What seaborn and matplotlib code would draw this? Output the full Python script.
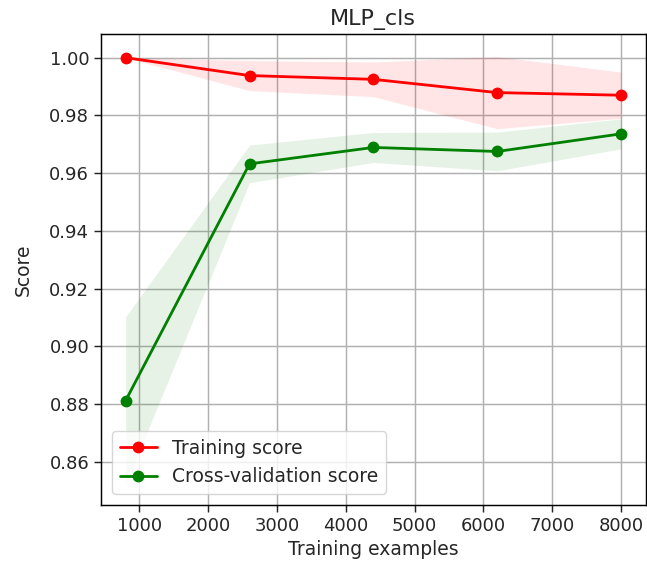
import numpy as np
import pandas as pd
import matplotlib
matplotlib.use("Agg")
import matplotlib.pyplot as plt
import seaborn as sns

# Learning curve of the MLP classifier
train_sizes = [800, 2600, 4400, 6200, 8000]
train_mean = [1.000, 0.9938, 0.9925, 0.9879, 0.9870]
train_std = [0.0000, 0.0052, 0.0060, 0.0125, 0.0080]
cv_mean = [0.8812, 0.9632, 0.9689, 0.9675, 0.9736]
cv_std = [0.0290, 0.0065, 0.0052, 0.0067, 0.0052]

sns.set_style("ticks")
plt.rcParams["font.family"] = ["DejaVu Sans"]
plt.rcParams["font.size"] = 13.5

df = pd.DataFrame({
    "size": train_sizes * 2,
    "score": train_mean + cv_mean,
    "kind": ["Training score"] * 5 + ["Cross-validation score"] * 5,
})

fig = plt.figure(figsize=(6.47, 5.69), dpi=100)
ax = fig.add_axes([0.156, 0.1125, 0.842, 0.8272])

tm, ts = np.array(train_mean), np.array(train_std)
cm, cs = np.array(cv_mean), np.array(cv_std)
ax.fill_between(train_sizes, tm - ts, tm + ts, color="r", alpha=0.1, lw=0)
ax.fill_between(train_sizes, cm - cs, cm + cs, color="g", alpha=0.1, lw=0)

sns.lineplot(data=df, x="size", y="score", hue="kind",
             palette={"Training score": "r", "Cross-validation score": "g"},
             marker="o", markersize=8.5, markeredgewidth=0, linewidth=2.0,
             ax=ax)

ax.grid(True, color="#b0b0b0", linewidth=1.05)
ax.set_axisbelow(True)
ax.set_xlim(440, 8360)
ax.set_ylim(0.845, 1.0081)
ax.set_yticks(np.arange(0.86, 1.001, 0.02))
ax.set_title("MLP_cls", fontsize=16, pad=7)
ax.set_xlabel("Training examples", fontsize=13.5, labelpad=4)
ax.set_ylabel("Score", fontsize=13.5, labelpad=12)
for s in ax.spines.values():
    s.set_color("black")
    s.set_linewidth(1.05)
ax.tick_params(direction="out", length=5, width=1.05, labelsize=13)
ax.legend(loc="lower left", fontsize=13.5, title=None, frameon=True,
          handlelength=2.0, borderaxespad=0.6)

fig.savefig("out.png", dpi=100)
